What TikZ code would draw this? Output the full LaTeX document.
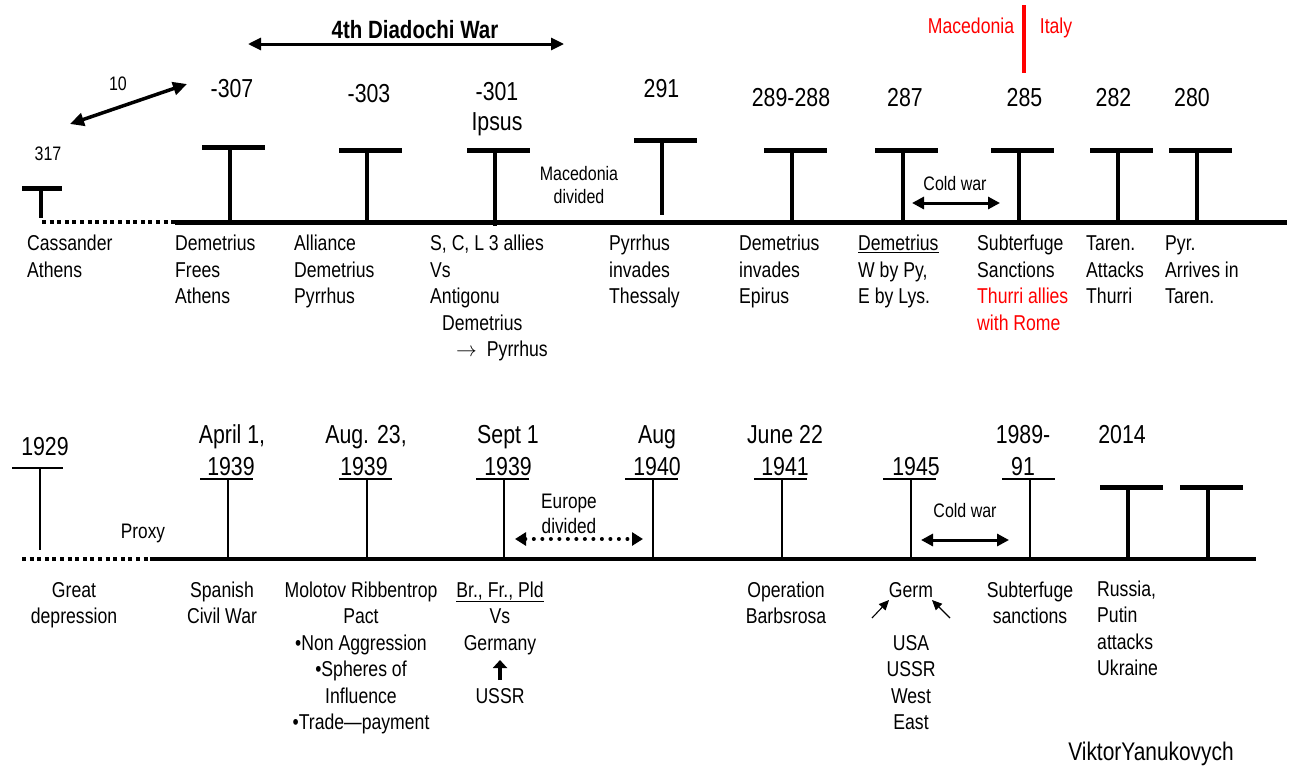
\documentclass[tikz,border=0pt]{standalone}
\usepackage{fontspec}
\setmainfont[FakeStretch=0.82]{Liberation Sans}
\usetikzlibrary{arrows.meta}
\begin{document}
\begin{tikzpicture}[x=1pt,y=-1pt,
  mainline/.style={line width=5},
  botline/.style={line width=4.5},
  dotline/.style={line width=4.5, dash pattern=on 4 off 3.6},
  tbar/.style={line width=5},
  tstem/.style={line width=4},
  thinT/.style={line width=1.4},
  date/.style={font=\fontsize{26}{30}\selectfont, inner sep=0, anchor=base},
  bodyl/.style={font=\fontsize{21.5}{26.5}\selectfont, inner sep=0, anchor=base west, align=left},
  bodyc/.style={font=\fontsize{21.5}{26.5}\selectfont, inner sep=0, anchor=base, align=center},
  small/.style={font=\fontsize{19.5}{23}\selectfont, inner sep=0, anchor=base, align=center},
  mid/.style={font=\fontsize{21}{25}\selectfont, inner sep=0, anchor=base, align=center},
  dblarrow/.style={line width=3, {Triangle[length=12,width=12]}-{Triangle[length=12,width=12]}},
  dotarrow/.style={line width=4, dash pattern=on 0.01 off 8.5, line cap=round, {Triangle[length=11,width=13]}-{Triangle[length=11,width=13]}},
  thinarrow/.style={line width=1.1, -{Triangle[length=10,width=9]}},
  uparrow/.style={line width=3.5, -{Triangle[length=8,width=14]}}
]
\useasboundingbox (0,0) rectangle (1289,766);

% ---------- top timeline ----------
\coordinate (ta) at (42,222);
\coordinate (tb) at (175,222);
\coordinate (tc) at (1287,222);
\draw[dotline] (ta) -- (tb);
\draw[mainline] (tb) -- (tc);

% small T at 317
\draw[tbar] (22,188) -- (62,188);
\draw[tstem] (41,188) -- (41,218);

% big T's: stem x, bar y, stem end
\foreach \sx/\by/\se in {230/147/224, 367/150/224, 495/150/226, 662/140/215, 792/150/224, 903/150/224, 1019/150/224, 1118/150/224, 1197/150/224}{
  \draw[tbar] ({\sx-28},\by) -- ({\sx+35},\by);
  \draw[tstem] (\sx,\by) -- (\sx,\se);
}

% top dates
\node[small] (n317) at (48,160) {317};
\node[small] (n10) at (118,90) {10};
\node[date] (d307) at (232,97) {-307};
\node[date] (d303) at (369,102) {-303};
\node[date] (d301) at (497,100) {-301};
\node[date] (ipsus) at (497,130) {Ipsus};
\node[date] (d291) at (661.5,97) {291};
\node[date] (d289) at (791,106) {289-288};
\node[date] (d287) at (905,106) {287};
\node[date] (d285) at (1024.5,106) {285};
\node[date] (d282) at (1113.5,106) {282};
\node[date] (d280) at (1192,106) {280};

% arrow 317 -> -307
\coordinate (a10s) at (70,124);
\coordinate (a10e) at (187,84);
\draw[line width=3.5, {Triangle[length=14,width=13]}-{Triangle[length=14,width=13]}] (a10s) -- (a10e);

% 4th Diadochi War
\node[font=\bfseries\fontsize{25}{30}\selectfont, inner sep=0, anchor=base] (diad) at (415,38) {4th Diadochi War};
\coordinate (dws) at (248,44);
\coordinate (dwe) at (564,44);
\draw[line width=3, {Triangle[length=13,width=12]}-{Triangle[length=13,width=12]}] (dws) -- (dwe);

% red Macedonia | Italy
\node[mid, text=red, font=\fontsize{21.5}{26}\selectfont] (rmac) at (971,33) {Macedonia};
\node[mid, text=red, font=\fontsize{21.5}{26}\selectfont] (rit) at (1056,33) {Italy};
\coordinate (rla) at (1024,5);
\coordinate (rlb) at (1024,73);
\draw[red, line width=4.5] (rla) -- (rlb);

% Macedonia divided (base = last line)
\node[small] (macdiv) at (579,203) {Macedonia\\divided};

% Cold war (top)
\node[small] (cw1) at (955,190) {Cold war};
\coordinate (cw1a) at (912,203);
\coordinate (cw1b) at (1000,203);
\draw[dblarrow] (cw1a) -- (cw1b);

% top labels (base anchor = baseline of last line)
\node[bodyl] (l1) at (27,277) {Cassander\\Athens};
\node[bodyl] (l2) at (175,303.5) {Demetrius\\Frees\\Athens};
\node[bodyl] (l3) at (294,303.5) {Alliance\\Demetrius\\Pyrrhus};
\node[bodyl] (l4) at (430,356.5) {S, C, L 3 allies\\Vs\\Antigonu\\\hspace*{12pt}Demetrius\\\hspace*{26pt}$\rightarrow$\hspace{10pt}Pyrrhus};
\node[bodyl] (l5) at (609,303.5) {Pyrrhus\\invades\\Thessaly};
\node[bodyl] (l6) at (739,303.5) {Demetrius\\invades\\Epirus};
\node[bodyl] (l7) at (858,303.5) {\underline{Demetrius}\\W by Py,\\E by Lys.};
\node[bodyl] (l8) at (977,330) {Subterfuge\\Sanctions\\\textcolor{red}{Thurri allies}\\\textcolor{red}{with Rome}};
\node[bodyl] (l9) at (1086,303.5) {Taren.\\Attacks\\Thurri};
\node[bodyl] (l10) at (1165,303.5) {Pyr.\\Arrives in\\Taren.};

% ---------- bottom timeline ----------
\coordinate (ba) at (22,559);
\coordinate (bb) at (150,559);
\coordinate (bc) at (1256,559);
\draw[dotline] (ba) -- (bb);
\draw[botline] (bb) -- (bc);

% thin T's
\draw[thinT] (12,468) -- (63,468);
\draw[thinT] (40,468) -- (40,550);
\foreach \sx in {228, 367, 504, 653, 782, 911, 1030}{
  \draw[thinT] ({\sx-28},479) -- ({\sx+25},479);
  \draw[thinT] (\sx,479) -- (\sx,559);
}
% thick T's
\foreach \sx in {1128, 1208}{
  \draw[tbar] ({\sx-28},487) -- ({\sx+35},487);
  \draw[tstem] (\sx,487) -- (\sx,561);
}

% bottom dates
\node[date] (b1929) at (45,455) {1929};
\node[date] (bapr) at (232,443) {April 1,};
\node[date] (bapry) at (231,475) {1939};
\node[date] (baug) at (366,443) {Aug. 23,};
\node[date] (baugy) at (364,475) {1939};
\node[date] (bsep) at (508,443) {Sept 1};
\node[date] (bsepy) at (508,475) {1939};
\node[date] (baug40) at (657,443) {Aug};
\node[date] (baug40y) at (657,475) {1940};
\node[date] (bjun) at (785,443) {June 22};
\node[date] (bjuny) at (785,475) {1941};
\node[date] (b1945) at (916,475) {1945};
\node[date] (b1989) at (1023,443) {1989-};
\node[date] (b91) at (1023,475) {91};
\node[date] (b2014) at (1122,443) {2014};

% Proxy, Europe divided, Cold war
\node[mid] (proxy) at (143,538) {Proxy};
\node[mid] (eudiv) at (569,533) {Europe\\divided};
\coordinate (eua) at (515,539);
\coordinate (eub) at (643,539);
\draw[dotarrow] (eua) -- (eub);
\node[small] (cw2) at (965,517) {Cold war};
\coordinate (cw2a) at (921,540);
\coordinate (cw2b) at (1009,540);
\draw[dblarrow] (cw2a) -- (cw2b);

% bottom labels (base anchor = baseline of last line)
\node[bodyc] (g1) at (74,623.5) {Great\\depression};
\node[bodyc] (g2) at (222,623.5) {Spanish\\Civil War};
\node[bodyc] (g3) at (361,729.5) {Molotov Ribbentrop\\Pact\\\textbullet Non Aggression\\\textbullet Spheres of\\Influence\\\textbullet Trade—payment};
\node[bodyc] (g4) at (500,650) {\underline{Br., Fr., Pld}\\Vs\\Germany};
\node[bodyc] (g4u) at (500,703) {USSR};
\coordinate (upa) at (500,680);
\coordinate (upb) at (500,660);
\draw[uparrow] (upa) -- (upb);
\node[bodyc] (g5) at (786,623.5) {Operation\\Barbsrosa};
\node[bodyc] (germ) at (911,597) {Germ};
\node[bodyc] (allies) at (911,729.5) {USA\\USSR\\West\\East};
\coordinate (gla) at (872,618);
\coordinate (glb) at (889,600);
\coordinate (gra) at (950,618);
\coordinate (grb) at (932,600);
\draw[thinarrow] (gla) -- (glb);
\draw[thinarrow] (gra) -- (grb);
\node[bodyc] (g7) at (1030,623.5) {Subterfuge\\sanctions};
\node[bodyl] (g8) at (1097,675.5) {Russia,\\Putin\\attacks\\Ukraine};
\node[font=\fontsize{25.5}{30}\selectfont, inner sep=0, anchor=base] (vy) at (1151,760) {ViktorYanukovych};
\end{tikzpicture}
\end{document}
